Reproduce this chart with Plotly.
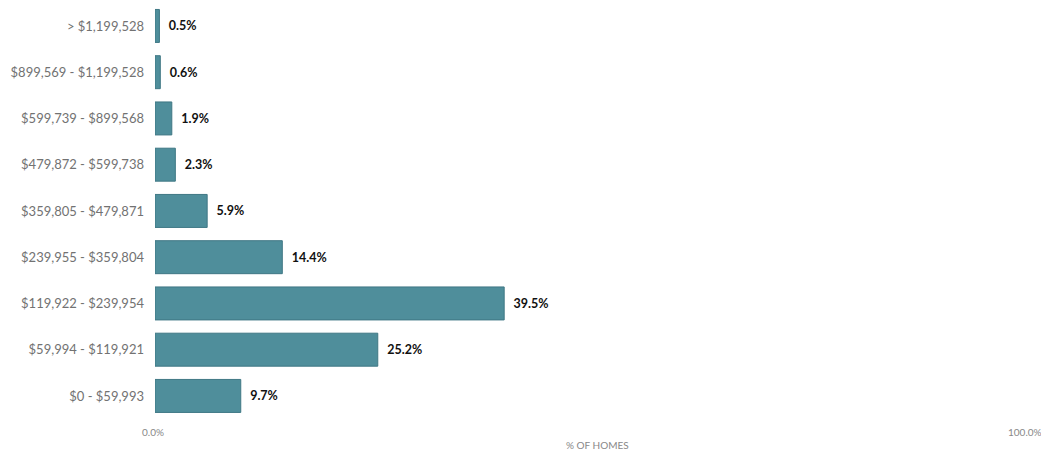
import plotly.graph_objects as go

ranges = ["$0 - $59,993", "$59,994 - $119,921", "$119,922 - $239,954",
          "$239,955 - $359,804", "$359,805 - $479,871", "$479,872 - $599,738",
          "$599,739 - $899,568", "$899,569 - $1,199,528", "> $1,199,528"]
pct_homes = [9.7, 25.2, 39.5, 14.4, 5.9, 2.3, 1.9, 0.6, 0.5]
x_ticks = [0, 100]
x_tick_labels = ["0.0%", "100.0%"]

fig = go.Figure(go.Bar(
    x=pct_homes, y=ranges, orientation="h",
    marker=dict(color="#4f8e9b", line=dict(color="#3f7784", width=1)),
    text=[f"{v:.1f}%" for v in pct_homes], textposition="outside",
    textfont=dict(family="Lato", size=12.5, color="#111111"),
    texttemplate="\u00a0\u00a0<b>%{text}</b>", cliponaxis=False,
))

# page body adds 8px offset, so the figure is sized to fit the window
fig.update_layout(
    width=1041, height=449,
    margin=dict(l=147, r=10, t=0, b=39),
    plot_bgcolor="white", paper_bgcolor="white",
    bargap=0.287, showlegend=False,
    font=dict(family="Lato", size=12, color="#666666"),
)
fig.update_xaxes(range=[0, 100], showgrid=False, zeroline=False,
                 showticklabels=False, fixedrange=True)
fig.update_yaxes(showgrid=False, ticks="", ticklabelstandoff=10, automargin=False,
                 range=[-0.477, 8.388],
                 tickfont=dict(size=13, color="#727272"))

for xv, lab, anc, sh in zip(x_ticks, x_tick_labels, ["center", "right"], [-2, 5]):
    fig.add_annotation(x=xv, y=0, xref="x", yref="paper", yshift=-22, xshift=sh,
                       text=lab, showarrow=False, xanchor=anc,
                       font=dict(size=10, color="#888888"))
fig.add_annotation(x=0.5, y=0, xref="paper", yref="paper", yshift=-35,
                   text="% OF HOMES", showarrow=False,
                   font=dict(size=10, color="#888888"))

fig.write_html("out.html")
